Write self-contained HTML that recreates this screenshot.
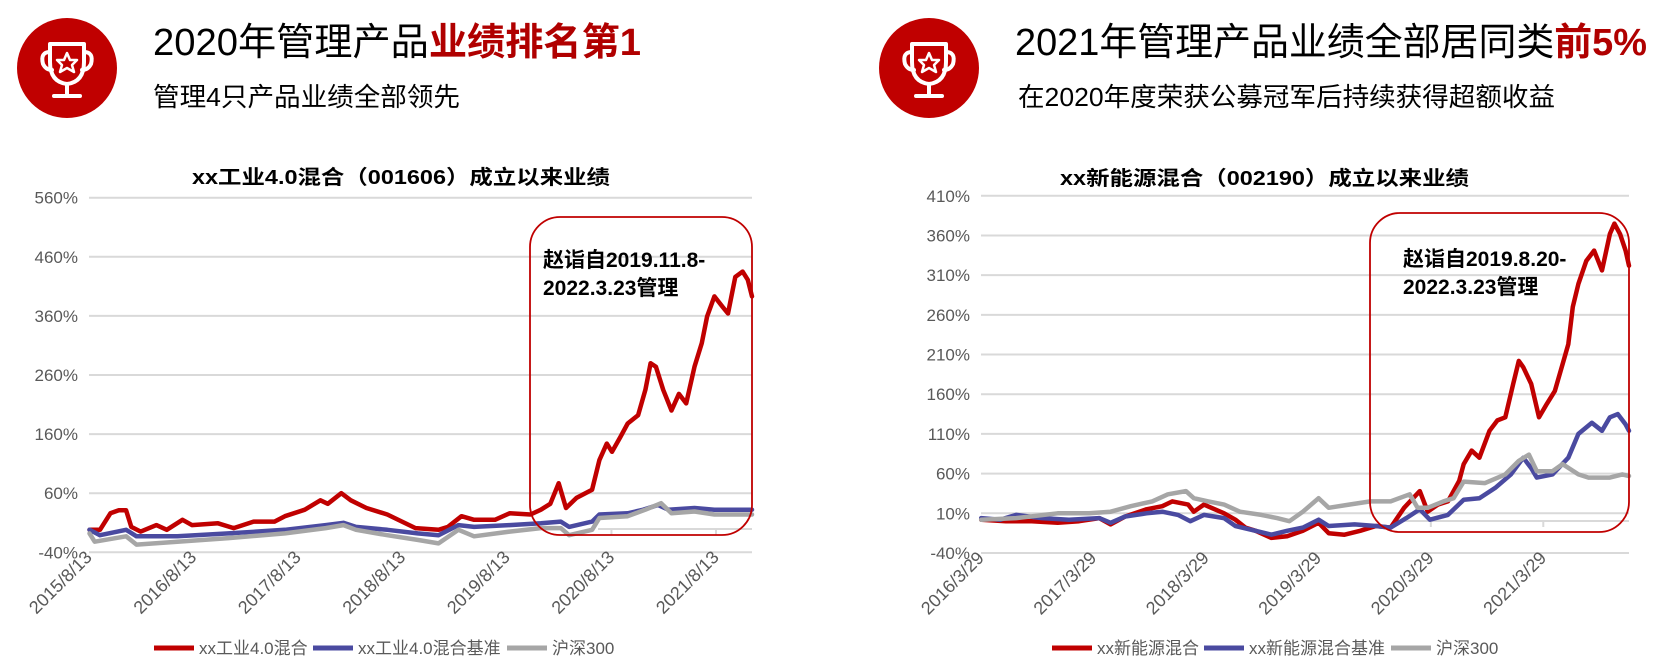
<!DOCTYPE html>
<html><head><meta charset="utf-8"><style>
html,body{margin:0;padding:0;background:#fff;}
svg{display:block;font-family:"Liberation Sans","Noto Sans CJK SC",sans-serif;}
</style></head><body>
<svg id="root" width="1672" height="672" viewBox="0 0 1672 672">
  <!-- Header 1 -->
  <g>
    <circle cx="67" cy="68" r="50" fill="#c00000"/>
    <g fill="none" stroke="#fff" stroke-width="4" stroke-linecap="round" stroke-linejoin="round">
      <path d="M50 44 H84 V62 Q84 82 67 84 Q50 82 50 62 Z"/>
      <path d="M50 52 Q40 52 43 64 Q46 70 52 70"/>
      <path d="M84 52 Q94 52 91 64 Q88 70 82 70"/>
      <line x1="67" y1="84" x2="67" y2="94"/>
      <line x1="54" y1="96" x2="80" y2="96"/>
      <path d="M67 53 L70 60 L77 60 L72 65 L74 72 L67 68 L60 72 L62 65 L57 60 L64 60 Z" stroke-width="2.5"/>
    </g>
    <text x="153" y="55" font-size="38" fill="#000" textLength="488" lengthAdjust="spacingAndGlyphs">2020年管理产品<tspan fill="#b00000" font-weight="bold">业绩排名第1</tspan></text>
    <text x="153" y="106" font-size="26" fill="#000" textLength="307" lengthAdjust="spacingAndGlyphs">管理4只产品业绩全部领先</text>
  </g>
  <!-- Header 2 -->
  <g>
    <circle cx="929" cy="68" r="50" fill="#c00000"/>
    <g transform="translate(862,0)" fill="none" stroke="#fff" stroke-width="4" stroke-linecap="round" stroke-linejoin="round">
      <path d="M50 44 H84 V62 Q84 82 67 84 Q50 82 50 62 Z"/>
      <path d="M50 52 Q40 52 43 64 Q46 70 52 70"/>
      <path d="M84 52 Q94 52 91 64 Q88 70 82 70"/>
      <line x1="67" y1="84" x2="67" y2="94"/>
      <line x1="54" y1="96" x2="80" y2="96"/>
      <path d="M67 53 L70 60 L77 60 L72 65 L74 72 L67 68 L60 72 L62 65 L57 60 L64 60 Z" stroke-width="2.5"/>
    </g>
    <text x="1015" y="55" font-size="38" fill="#000" textLength="632" lengthAdjust="spacingAndGlyphs">2021年管理产品业绩全部居同类<tspan fill="#b00000" font-weight="bold">前5%</tspan></text>
    <text x="1018" y="106" font-size="26" fill="#000" textLength="537" lengthAdjust="spacingAndGlyphs">在2020年度荣获公募冠军后持续获得超额收益</text>
  </g>
  <g id="chart1"></g>
  <g id="chart2"></g>
</svg>
<script>
// ---------- Chart 1 data (decimal years, % return) ----------
const c1RedDates = [2015.62,2015.72,2015.82,2015.90,2015.97,2016.02,2016.11,2016.26,2016.36,2016.51,2016.60,2016.85,2017.00,2017.19,2017.39,2017.49,2017.68,2017.83,2017.90,2018.03,2018.12,2018.27,2018.47,2018.61,2018.74,2018.96,2019.05,2019.18,2019.30,2019.50,2019.64,2019.84,2019.94,2020.03,2020.11,2020.18,2020.28,2020.43,2020.50,2020.57,2020.62,2020.70,2020.77,2020.87,2020.94,2020.99,2021.04,2021.11,2021.19,2021.26,2021.33,2021.41,2021.48,2021.53,2021.60,2021.68,2021.73,2021.80,2021.87,2021.92,2021.96];
const c1RedValues = [-2,-2,26,31,31,3,-5,6,-2,15,6,9,1,12,12,21,32,48,42,60,48,35,24,12,1,-2,3,21,15,15,26,24,32,42,77,35,52,66,116,144,130,155,178,192,235,280,274,235,200,228,212,274,314,359,393,375,364,426,435,421,393];
const c1BlueDates = [2015.62,2015.72,2015.97,2016.07,2016.46,2016.95,2017.49,2017.88,2018.05,2018.17,2018.47,2018.76,2018.96,2019.15,2019.30,2019.64,2019.94,2020.13,2020.21,2020.43,2020.50,2020.77,2020.92,2021.06,2021.16,2021.41,2021.60,2021.96];
const c1BlueValues = [-2,-11,-2,-13,-13,-8,-2,6,10,3,-2,-8,-11,6,3,6,9,12,3,12,24,26,32,40,32,35,32,32];
const c1GreyDates = [2015.62,2015.67,2015.97,2016.07,2016.46,2016.95,2017.49,2017.88,2018.05,2018.17,2018.47,2018.76,2018.96,2019.15,2019.30,2019.64,2019.94,2020.13,2020.21,2020.43,2020.50,2020.77,2020.94,2021.09,2021.19,2021.41,2021.60,2021.96];
const c1GreyValues = [-8,-22,-13,-27,-22,-16,-8,1,6,-2,-11,-19,-25,-2,-13,-5,1,1,-11,-2,18,21,32,43,26,29,24,24];
const c1YTicks = [560,460,360,260,160,60,-40];
const c1XTickLabels = ["2015/8/13","2016/8/13","2017/8/13","2018/8/13","2019/8/13","2020/8/13","2021/8/13"];
const c1XTickDates = [2015.615,2016.615,2017.615,2018.615,2019.615,2020.615,2021.615];
const c1Legend = ["xx工业4.0混合","xx工业4.0混合基准","沪深300"];

// ---------- Chart 2 data ----------
const c2RedDates = [2016.24,2016.46,2016.69,2016.92,2017.11,2017.29,2017.39,2017.52,2017.71,2017.85,2017.94,2018.08,2018.13,2018.22,2018.40,2018.50,2018.59,2018.68,2018.82,2018.96,2019.10,2019.24,2019.33,2019.47,2019.61,2019.75,2019.88,2020.00,2020.14,2020.21,2020.30,2020.39,2020.49,2020.53,2020.60,2020.67,2020.76,2020.83,2020.90,2020.97,2021.02,2021.06,2021.13,2021.20,2021.27,2021.34,2021.41,2021.46,2021.50,2021.55,2021.62,2021.69,2021.76,2021.83,2021.87,2021.92,2021.97,2022.00];
const c2RedValues = [2,0,0,-2,0,4,-4,6,15,19,25,21,12,21,10,2,-8,-12,-21,-19,-12,-2,-15,-17,-12,-6,-8,17,38,12,21,25,51,72,89,80,114,127,131,173,202,194,173,131,148,164,198,223,270,299,328,341,316,362,375,362,341,322];
const c2BlueDates = [2016.24,2016.41,2016.55,2016.78,2017.02,2017.29,2017.39,2017.52,2017.71,2017.85,2017.99,2018.10,2018.22,2018.40,2018.50,2018.68,2018.82,2018.96,2019.10,2019.24,2019.33,2019.56,2019.75,2019.88,2020.02,2020.14,2020.23,2020.39,2020.53,2020.67,2020.81,2020.95,2021.06,2021.13,2021.18,2021.32,2021.46,2021.55,2021.67,2021.76,2021.83,2021.90,2021.97,2022.00];
const c2BlueValues = [4,2,8,4,2,4,-2,6,10,12,8,0,8,4,-6,-12,-17,-12,-8,2,-6,-4,-6,-8,4,15,2,8,27,29,42,59,80,67,55,59,80,110,124,114,131,135,122,114];
const c2GreyDates = [2016.24,2016.55,2016.92,2017.20,2017.39,2017.57,2017.76,2017.90,2018.06,2018.13,2018.26,2018.40,2018.54,2018.73,2018.87,2018.98,2019.10,2019.24,2019.33,2019.51,2019.70,2019.88,2020.05,2020.12,2020.21,2020.35,2020.44,2020.53,2020.72,2020.90,2021.02,2021.11,2021.18,2021.32,2021.41,2021.55,2021.64,2021.83,2021.94,2022.00];
const c2GreyValues = [2,4,10,10,12,19,25,34,38,29,25,21,12,8,4,0,12,29,17,21,25,25,34,17,17,25,29,50,48,59,76,84,63,63,72,59,55,55,59,57];
const c2YTicks = [410,360,310,260,210,160,110,60,10,-40];
const c2XTickLabels = ["2016/3/29","2017/3/29","2018/3/29","2019/3/29","2020/3/29","2021/3/29"];
const c2XTickDates = [2016.238,2017.238,2018.238,2019.238,2020.238,2021.238];
const c2Legend = ["xx新能源混合","xx新能源混合基准","沪深300"];

const NS = "http://www.w3.org/2000/svg";
function mk(tag, attrs, parent){ const e=document.createElementNS(NS,tag); for(const k in attrs) e.setAttribute(k,attrs[k]); parent.appendChild(e); return e; }

function drawChart(g, cfg){
  const x = d => cfg.left + (d - cfg.x0)/(cfg.x1 - cfg.x0)*(cfg.right - cfg.left);
  const y = v => cfg.top + (cfg.yMax - v)/(cfg.yMax - cfg.yMin)*(cfg.bottom - cfg.top);
  // title
  const t = mk('text',{x:cfg.titleX,y:cfg.titleY,'font-size':20,'font-weight':'bold',fill:'#000',textLength:cfg.titleW,lengthAdjust:'spacingAndGlyphs'},g);
  t.textContent = cfg.title;
  
  
  // grid + y labels
  cfg.yTicks.forEach(v=>{
    const l = mk('line',{x1:cfg.left,x2:cfg.right,y1:y(v),y2:y(v),stroke:'#d9d9d9','stroke-width':2},g);
    
    
    const tx = mk('text',{x:cfg.left-11,y:y(v)+6,'font-size':17,fill:'#595959','text-anchor':'end'},g);
    tx.textContent = v+'%';
    
    
  });
  // stray axis line
  const ax = mk('line',{x1:cfg.axX1,x2:cfg.right,y1:cfg.axY,y2:cfg.axY,stroke:'#d9d9d9','stroke-width':2},g);
  
  
  // x labels
  cfg.xTickDates.forEach((d,i)=>{
    const px = x(d);
    if (px > cfg.axX1+5) { const tk = mk('line',{x1:px,x2:px,y1:cfg.axY,y2:cfg.axY+6,stroke:'#d9d9d9','stroke-width':2},g);
      
       }
    const tx = mk('text',{x:0,y:0,'font-size':18,fill:'#595959','text-anchor':'end',transform:`translate(${px+4},${cfg.bottom+6}) rotate(-45)`},g);
    tx.textContent = cfg.xTickLabels[i];
    
    
  });
  // series
  cfg.series.forEach(s=>{
    const pts = s.dates.map((d,i)=>x(d).toFixed(1)+','+y(s.values[i]).toFixed(1)).join(' ');
    const p = mk('polyline',{points:pts,fill:'none',stroke:s.color,'stroke-width':4.5,'stroke-linejoin':'round','stroke-linecap':'round'},g);
    
    
  });
  // annotation box
  const b = mk('rect',{x:cfg.box[0],y:cfg.box[1],width:cfg.box[2],height:cfg.box[3],rx:30,ry:30,fill:'none',stroke:'#c00000','stroke-width':1.8},g);
  
  
  cfg.note.forEach((ln,i)=>{
    const tx = mk('text',{x:cfg.noteX,y:cfg.noteY+i*28,'font-size':21,'font-weight':'bold',fill:'#000'},g);
    tx.textContent = ln;
    
    
  });
  // legend
  cfg.legend.forEach((lab,i)=>{
    const lx = cfg.legendX[i];
    const l = mk('line',{x1:lx,x2:lx+40,y1:648,y2:648,stroke:cfg.series[i].color,'stroke-width':5},g);
    
    
    const tx = mk('text',{x:lx+45,y:654,'font-size':17,fill:'#595959'},g);
    tx.textContent = lab;
    
    
  });
}

drawChart(document.getElementById('chart1'),{
  left:89,right:752,top:197.7,bottom:552.3,yMax:560,yMin:-40,x0:2015.615,x1:2021.96,
  yTicks:c1YTicks,xTickDates:c1XTickDates,xTickLabels:c1XTickLabels,
  title:'xx工业4.0混合（001606）成立以来业绩',titleX:192,titleY:184,titleW:418,
  axX1:598,axY:529,
  series:[{name:'series-grey-hs300',dates:c1GreyDates,values:c1GreyValues,color:'#a6a6a6'},
          {name:'series-blue-benchmark',dates:c1BlueDates,values:c1BlueValues,color:'#4a4aa0'},
          {name:'series-red-fund',dates:c1RedDates,values:c1RedValues,color:'#c00000'}].reverse(),
  box:[530,217,222,318],note:['赵诣自2019.11.8-','2022.3.23管理'],noteX:543,noteY:267,
  legend:c1Legend,legendX:[154,313,507]
});
drawChart(document.getElementById('chart2'),{
  left:981,right:1629,top:195.8,bottom:553,yMax:410,yMin:-40,x0:2016.238,x1:2022.0,
  yTicks:c2YTicks,xTickDates:c2XTickDates,xTickLabels:c2XTickLabels,
  title:'xx新能源混合（002190）成立以来业绩',titleX:1060,titleY:185,titleW:409,
  axX1:1400,axY:521,
  series:[{name:'series-grey-hs300',dates:c2GreyDates,values:c2GreyValues,color:'#a6a6a6'},
          {name:'series-blue-benchmark',dates:c2BlueDates,values:c2BlueValues,color:'#4a4aa0'},
          {name:'series-red-fund',dates:c2RedDates,values:c2RedValues,color:'#c00000'}].reverse(),
  box:[1370,213,259,319],note:['赵诣自2019.8.20-','2022.3.23管理'],noteX:1403,noteY:266,
  legend:c2Legend,legendX:[1052,1204,1391]
});
</script>
</body></html>
